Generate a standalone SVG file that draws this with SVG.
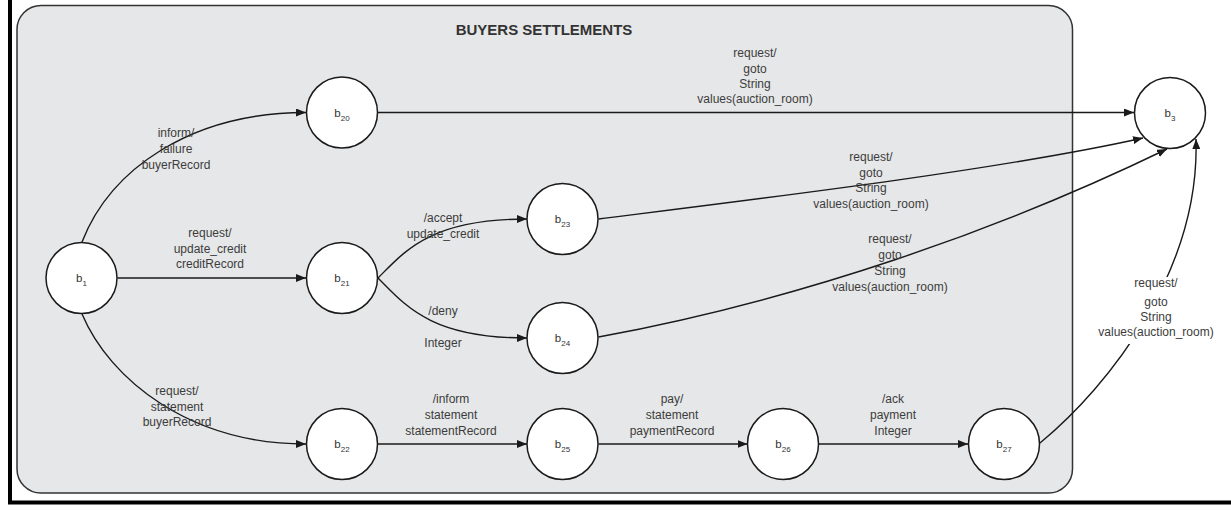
<svg xmlns="http://www.w3.org/2000/svg" width="1231" height="513" viewBox="0 0 1231 513">
  <style>
    .frame { fill: #ffffff; stroke: #000000; stroke-width: 4; }
    .region { fill: #e6e7e8; stroke: #333333; stroke-width: 1.5; }
    .title { font-family: "Liberation Sans", Arial, sans-serif; font-size: 15px; font-weight: bold; fill: #333333; text-anchor: middle; }
    .state { fill: #ffffff; stroke: #1a1a1a; stroke-width: 1.5; }
    .name { font-family: "Liberation Sans", Arial, sans-serif; font-size: 11.5px; fill: #333333; text-anchor: middle; }
    .sub { font-size: 8px; }
    .edge { fill: none; stroke: #1a1a1a; stroke-width: 1.4; marker-end: url(#arrow); }
    .label { font-family: "Liberation Sans", Arial, sans-serif; font-size: 12px; fill: #3c3c3c; text-anchor: middle; }
    .label-bg { fill: #ffffff; stroke: none; }
  </style>
  <defs>
    <marker id="arrow" markerUnits="userSpaceOnUse" markerWidth="11" markerHeight="8" refX="10" refY="4" orient="auto">
      <path d="M0,0 L10,4 L0,8 Z" fill="#1a1a1a"/>
    </marker>
  </defs>

  <!-- page frame -->
  <rect class="frame" x="10" y="-10" width="1240" height="512.5"/>

  <!-- composite state region -->
  <g id="buyers-settlements">
    <rect class="region" x="17" y="5.5" width="1055.5" height="487.5" rx="24" ry="24"/>
    <text class="title" x="544" y="35">BUYERS SETTLEMENTS</text>
  </g>

  <!-- transitions -->
  <g id="connectors">
    <path class="edge" d="M82,242 C110,170 190,112.5 306,112.5"/>
    <path class="edge" d="M117.5,278 L306,278"/>
    <path class="edge" d="M82,314 C110,380 190,444 306,444"/>
    <path class="edge" d="M378,278 C405,251 430,219 527,219"/>
    <path class="edge" d="M378,278 C405,305 430,338 527,338"/>
    <path class="edge" d="M378,444 L527,444"/>
    <path class="edge" d="M598.5,444 L747.5,444"/>
    <path class="edge" d="M819,444 L968,444"/>
    <path class="edge" d="M378,112.5 L1134,112.5"/>
    <path class="edge" d="M598.5,219 C750,200 1000,170 1143,138"/>
    <path class="edge" d="M598.5,337 C800,300 1000,230 1167,149"/>
    <path class="edge" d="M1040,443 C1110,385 1200,270 1196,139"/>
  </g>

  <!-- transition labels -->
  <g id="labels">
    <text class="label" x="176" y="137">inform/</text>
    <text class="label" x="176" y="153">failure</text>
    <text class="label" x="176" y="169">buyerRecord</text>

    <text class="label" x="210" y="237">request/</text>
    <text class="label" x="210" y="252.5">update_credit</text>
    <text class="label" x="210" y="268">creditRecord</text>

    <text class="label" x="177" y="395">request/</text>
    <text class="label" x="177" y="410.5">statement</text>
    <text class="label" x="177" y="426">buyerRecord</text>

    <text class="label" x="443" y="222">/accept</text>
    <text class="label" x="443" y="238">update_credit</text>

    <text class="label" x="443" y="315">/deny</text>
    <text class="label" x="443" y="347">Integer</text>

    <text class="label" x="451" y="403">/inform</text>
    <text class="label" x="451" y="419">statement</text>
    <text class="label" x="451" y="435">statementRecord</text>

    <text class="label" x="672" y="403">pay/</text>
    <text class="label" x="672" y="419">statement</text>
    <text class="label" x="672" y="435">paymentRecord</text>

    <text class="label" x="893" y="403">/ack</text>
    <text class="label" x="893" y="419">payment</text>
    <text class="label" x="893" y="435">Integer</text>

    <text class="label" x="755" y="57">request/</text>
    <text class="label" x="755" y="72.5">goto</text>
    <text class="label" x="755" y="88">String</text>
    <text class="label" x="755" y="103">values(auction_room)</text>

    <text class="label" x="871" y="161">request/</text>
    <text class="label" x="871" y="176.5">goto</text>
    <text class="label" x="871" y="192">String</text>
    <text class="label" x="871" y="208">values(auction_room)</text>

    <text class="label" x="890" y="243">request/</text>
    <text class="label" x="890" y="259">goto</text>
    <text class="label" x="890" y="275">String</text>
    <text class="label" x="890" y="291">values(auction_room)</text>

    <rect class="label-bg" x="1094" y="277" width="124" height="67"/>
    <text class="label" x="1156" y="287">request/</text>
    <text class="label" x="1156" y="306">goto</text>
    <text class="label" x="1156" y="321">String</text>
    <text class="label" x="1156" y="336">values(auction_room)</text>
  </g>

  <!-- states -->
  <g id="b1">
    <circle class="state" cx="81.5" cy="278" r="35.5"/>
    <text class="name" x="81.5" y="282">b<tspan class="sub" dy="4">1</tspan></text>
  </g>
  <g id="b20">
    <circle class="state" cx="342" cy="112.5" r="35.5"/>
    <text class="name" x="342" y="116.5">b<tspan class="sub" dy="4">20</tspan></text>
  </g>
  <g id="b21">
    <circle class="state" cx="342" cy="278" r="35.5"/>
    <text class="name" x="342" y="282">b<tspan class="sub" dy="4">21</tspan></text>
  </g>
  <g id="b22">
    <circle class="state" cx="342" cy="444" r="35.5"/>
    <text class="name" x="342" y="448">b<tspan class="sub" dy="4">22</tspan></text>
  </g>
  <g id="b23">
    <circle class="state" cx="562.5" cy="219" r="35.5"/>
    <text class="name" x="562.5" y="223">b<tspan class="sub" dy="4">23</tspan></text>
  </g>
  <g id="b24">
    <circle class="state" cx="562.5" cy="338" r="35.5"/>
    <text class="name" x="562.5" y="342">b<tspan class="sub" dy="4">24</tspan></text>
  </g>
  <g id="b25">
    <circle class="state" cx="562.5" cy="444" r="35.5"/>
    <text class="name" x="562.5" y="448">b<tspan class="sub" dy="4">25</tspan></text>
  </g>
  <g id="b26">
    <circle class="state" cx="783" cy="444" r="35.5"/>
    <text class="name" x="783" y="448">b<tspan class="sub" dy="4">26</tspan></text>
  </g>
  <g id="b27">
    <circle class="state" cx="1004" cy="444" r="35.5"/>
    <text class="name" x="1004" y="448">b<tspan class="sub" dy="4">27</tspan></text>
  </g>
  <g id="b3">
    <circle class="state" cx="1170" cy="113" r="35.5"/>
    <text class="name" x="1170" y="117">b<tspan class="sub" dy="4">3</tspan></text>
  </g>
</svg>
